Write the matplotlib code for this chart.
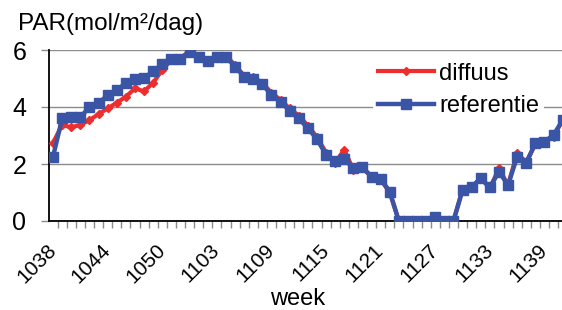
import matplotlib.pyplot as plt
import numpy as np

plt.rcParams['font.family'] = ['Liberation Sans', 'DejaVu Sans']

# weeks: 2010 wk 38..53, 2011 wk 01..41
weeks = [str(1000 + w) for w in range(38, 54)] + ['11%02d' % w for w in range(1, 42)]

diffuus = [2.75, 3.37, 3.29, 3.37, 3.54, 3.75, 3.95, 4.15, 4.36, 4.65,
           4.55, 4.85, 5.30, 5.65, 5.70, 5.98, 5.75, 5.65, 5.78, 5.80,
           5.47, 5.10, 5.05, 4.85, 4.50, 4.25, 3.95, 3.70, 3.35, 2.95,
           2.40, 2.05, 2.50, 1.80, 1.85, 1.55, 1.45, 1.00, 0.00, 0.00,
           0.00, 0.00, 0.15, 0.00, 0.00, 1.10, 1.20, 1.50, 1.15, 1.85,
           1.25, 2.40, 2.05, 2.70, 2.80, 2.95, 3.55]

referentie = [2.26, 3.60, 3.64, 3.64, 4.00, 4.13, 4.42, 4.60, 4.83, 5.00,
              5.02, 5.25, 5.50, 5.70, 5.70, 5.93, 5.75, 5.62, 5.75, 5.75,
              5.42, 5.06, 5.00, 4.80, 4.42, 4.19, 3.87, 3.60, 3.25, 2.88,
              2.32, 2.12, 2.16, 1.87, 1.88, 1.56, 1.48, 1.03, 0.00, 0.00,
              0.00, 0.00, 0.15, 0.00, 0.00, 1.09, 1.18, 1.50, 1.18, 1.73,
              1.26, 2.26, 2.05, 2.72, 2.78, 3.02, 3.54]

red = '#EE2E2E'
blue = '#3A55A6'
grid = '#8C8C8C'

x = np.arange(len(weeks))

fig = plt.figure(figsize=(5.62, 3.10), dpi=100)
ax = fig.add_axes([48.5 / 562, 1 - 221 / 310, 518.7 / 562, 171 / 310])

ax.plot(x, diffuus, color=red, lw=3, marker='D', ms=4.5, label='diffuus', zorder=3)
ax.plot(x, referentie, color=blue, lw=3.2, marker='s', ms=6.5, label='referentie', zorder=4)

ax.set_xlim(-0.5, len(weeks) - 0.5)
ax.set_ylim(0, 6)
ax.set_yticks([0, 2, 4, 6])
ax.yaxis.grid(True, color=grid, lw=1)
ax.set_axisbelow(True)

for s in ['top', 'right']:
    ax.spines[s].set_visible(False)
ax.spines['left'].set_linewidth(1.3)
ax.spines['bottom'].set_linewidth(1.3)

ax.tick_params(axis='y', length=6, width=1, color=grid, pad=10, labelsize=18)
ax.set_xticks(x[::6])
ax.set_xticklabels(weeks[::6], rotation=45, ha='right', va='center',
                   rotation_mode='anchor', fontsize=15)
ax.set_xticks(x[:-1] + 0.5, minor=True)
ax.tick_params(axis='x', which='major', length=0, pad=19)
ax.tick_params(axis='x', which='minor', length=5, width=1, color=grid)

fig.text(18 / 562, 1 - 30 / 310, 'PAR(mol/m²/dag)', fontsize=17.5, ha='left', va='baseline')
fig.text(298 / 562, 1 - 299 / 310, 'week', fontsize=17, ha='center', va='center')

leg = ax.legend(loc='upper left', bbox_to_anchor=(373 / 562, 1 - 58 / 310),
                bbox_transform=fig.transFigure, fontsize=17, frameon=True,
                fancybox=False, edgecolor='none', facecolor='white', framealpha=1,
                handlelength=2.4, handletextpad=0.2, labelspacing=0.45,
                borderpad=0.2, borderaxespad=0)
leg.set_zorder(5)

fig.savefig('out.png', dpi=100)
